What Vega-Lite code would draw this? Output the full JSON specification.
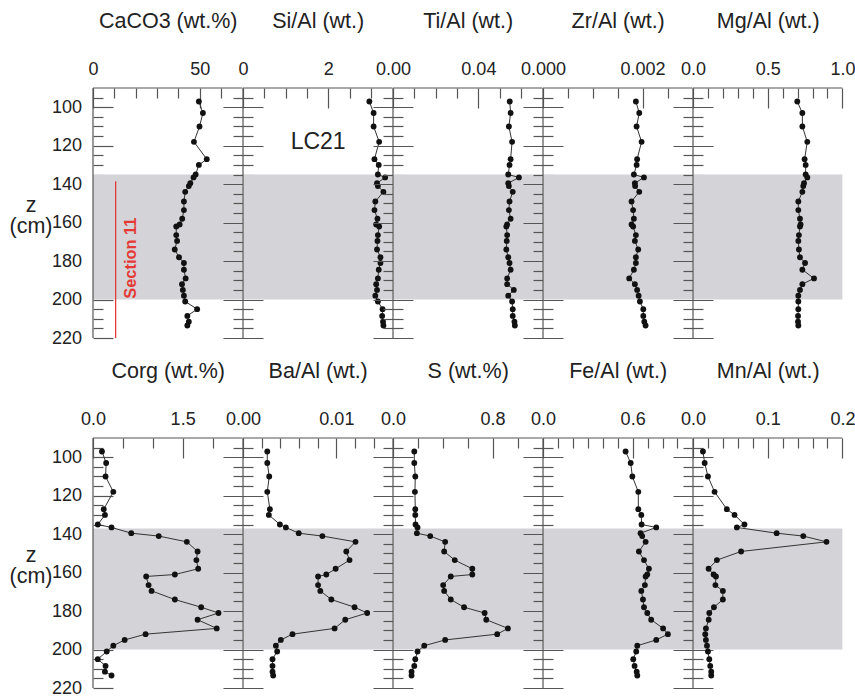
{
"$schema":"https://vega.github.io/schema/vega-lite/v6.json",
"padding":{"left":9,"top":10,"right":5,"bottom":5},
"datasets":{"core":[
{"depth":97,"CaCO3":49.6,"Si_Al":2.96,"Ti_Al":0.0547,"Zr_Al":0.001865,"Mg_Al":0.698,"Corg":0.15,"Ba_Al":0.0026,"S":0.171,"Fe_Al":0.553,"Mn_Al":0.0133},
{"depth":103,"CaCO3":51.5,"Si_Al":3.06,"Ti_Al":0.0551,"Zr_Al":0.001933,"Mg_Al":0.732,"Corg":0.22,"Ba_Al":0.0026,"S":0.171,"Fe_Al":0.587,"Mn_Al":0.0156},
{"depth":110,"CaCO3":49.9,"Si_Al":3.06,"Ti_Al":0.0543,"Zr_Al":0.001879,"Mg_Al":0.732,"Corg":0.21,"Ba_Al":0.00281,"S":0.179,"Fe_Al":0.598,"Mn_Al":0.02},
{"depth":118,"CaCO3":47.3,"Si_Al":3.19,"Ti_Al":0.0558,"Zr_Al":0.00198,"Mg_Al":0.765,"Corg":0.34,"Ba_Al":0.0026,"S":0.176,"Fe_Al":0.638,"Mn_Al":0.0289},
{"depth":127,"CaCO3":53.3,"Si_Al":3.08,"Ti_Al":0.0551,"Zr_Al":0.00189,"Mg_Al":0.747,"Corg":0.18,"Ba_Al":0.00288,"S":0.179,"Fe_Al":0.638,"Mn_Al":0.0453},
{"depth":130,"CaCO3":49.6,"Si_Al":3.18,"Ti_Al":0.0546,"Zr_Al":0.00188,"Mg_Al":0.754,"Corg":0.2,"Ba_Al":0.00277,"S":0.179,"Fe_Al":0.658,"Mn_Al":0.0556},
{"depth":135,"CaCO3":48.1,"Si_Al":3.16,"Ti_Al":0.054,"Zr_Al":0.001825,"Mg_Al":0.754,"Corg":0.08,"Ba_Al":0.00395,"S":0.181,"Fe_Al":0.66,"Mn_Al":0.0689},
{"depth":136.5,"CaCO3":47.1,"Si_Al":3.33,"Ti_Al":0.059,"Zr_Al":0.002027,"Mg_Al":0.765,"Corg":0.31,"Ba_Al":0.00459,"S":0.197,"Fe_Al":0.758,"Mn_Al":0.0587},
{"depth":139.5,"CaCO3":45.6,"Si_Al":3.14,"Ti_Al":0.054,"Zr_Al":0.001845,"Mg_Al":0.743,"Corg":0.64,"Ba_Al":0.00597,"S":0.192,"Fe_Al":0.653,"Mn_Al":0.112},
{"depth":141,"CaCO3":44.9,"Si_Al":3.16,"Ti_Al":0.0543,"Zr_Al":0.00185,"Mg_Al":0.738,"Corg":1.1,"Ba_Al":0.0085,"S":0.299,"Fe_Al":0.664,"Mn_Al":0.1476},
{"depth":144,"CaCO3":43.2,"Si_Al":3.29,"Ti_Al":0.0561,"Zr_Al":0.001933,"Mg_Al":0.732,"Corg":1.57,"Ba_Al":0.01205,"S":0.419,"Fe_Al":0.687,"Mn_Al":0.1787},
{"depth":149,"CaCO3":42.6,"Si_Al":3.1,"Ti_Al":0.0546,"Zr_Al":0.001778,"Mg_Al":0.705,"Corg":1.75,"Ba_Al":0.01106,"S":0.411,"Fe_Al":0.642,"Mn_Al":0.0644},
{"depth":153.5,"CaCO3":42.6,"Si_Al":3.08,"Ti_Al":0.0543,"Zr_Al":0.00181,"Mg_Al":0.705,"Corg":1.73,"Ba_Al":0.01141,"S":0.496,"Fe_Al":0.676,"Mn_Al":0.032},
{"depth":158,"CaCO3":41.8,"Si_Al":3.15,"Ti_Al":0.0551,"Zr_Al":0.001825,"Mg_Al":0.716,"Corg":1.76,"Ba_Al":0.00992,"S":0.637,"Fe_Al":0.709,"Mn_Al":0.0209},
{"depth":161,"CaCO3":40.6,"Si_Al":3.12,"Ti_Al":0.0535,"Zr_Al":0.001778,"Mg_Al":0.72,"Corg":1.37,"Ba_Al":0.00892,"S":0.637,"Fe_Al":0.698,"Mn_Al":0.0276},
{"depth":162,"CaCO3":39.0,"Si_Al":3.19,"Ti_Al":0.0531,"Zr_Al":0.00181,"Mg_Al":0.716,"Corg":0.89,"Ba_Al":0.00804,"S":0.464,"Fe_Al":0.687,"Mn_Al":0.0307},
{"depth":166.5,"CaCO3":39.0,"Si_Al":3.16,"Ti_Al":0.0535,"Zr_Al":0.001865,"Mg_Al":0.709,"Corg":0.93,"Ba_Al":0.00804,"S":0.403,"Fe_Al":0.682,"Mn_Al":0.03},
{"depth":169.5,"CaCO3":39.4,"Si_Al":3.15,"Ti_Al":0.0533,"Zr_Al":0.001845,"Mg_Al":0.705,"Corg":0.98,"Ba_Al":0.00828,"S":0.411,"Fe_Al":0.658,"Mn_Al":0.04},
{"depth":174,"CaCO3":38.3,"Si_Al":3.14,"Ti_Al":0.0531,"Zr_Al":0.001912,"Mg_Al":0.709,"Corg":1.37,"Ba_Al":0.00946,"S":0.464,"Fe_Al":0.669,"Mn_Al":0.04},
{"depth":178,"CaCO3":40.3,"Si_Al":3.22,"Ti_Al":0.054,"Zr_Al":0.001865,"Mg_Al":0.716,"Corg":1.81,"Ba_Al":0.01195,"S":0.571,"Fe_Al":0.676,"Mn_Al":0.028},
{"depth":181,"CaCO3":42.6,"Si_Al":3.22,"Ti_Al":0.0546,"Zr_Al":0.001865,"Mg_Al":0.75,"Corg":2.1,"Ba_Al":0.0133,"S":0.736,"Fe_Al":0.698,"Mn_Al":0.0218},
{"depth":184.5,"CaCO3":42.6,"Si_Al":3.18,"Ti_Al":0.0551,"Zr_Al":0.001825,"Mg_Al":0.732,"Corg":1.75,"Ba_Al":0.01095,"S":0.749,"Fe_Al":0.724,"Mn_Al":0.021},
{"depth":189,"CaCO3":43.4,"Si_Al":3.16,"Ti_Al":0.0535,"Zr_Al":0.001731,"Mg_Al":0.81,"Corg":2.07,"Ba_Al":0.00981,"S":0.923,"Fe_Al":0.804,"Mn_Al":0.0173},
{"depth":192,"CaCO3":41.7,"Si_Al":3.12,"Ti_Al":0.0535,"Zr_Al":0.001845,"Mg_Al":0.732,"Corg":0.88,"Ba_Al":0.0053,"S":0.837,"Fe_Al":0.836,"Mn_Al":0.0164},
{"depth":195,"CaCO3":42.1,"Si_Al":3.14,"Ti_Al":0.0566,"Zr_Al":0.00189,"Mg_Al":0.716,"Corg":0.53,"Ba_Al":0.00405,"S":0.419,"Fe_Al":0.758,"Mn_Al":0.0173},
{"depth":198,"CaCO3":42.6,"Si_Al":3.1,"Ti_Al":0.054,"Zr_Al":0.00192,"Mg_Al":0.705,"Corg":0.34,"Ba_Al":0.00352,"S":0.251,"Fe_Al":0.631,"Mn_Al":0.0187},
{"depth":201,"CaCO3":43.2,"Si_Al":3.16,"Ti_Al":0.0558,"Zr_Al":0.001946,"Mg_Al":0.705,"Corg":0.23,"Ba_Al":0.00366,"S":0.197,"Fe_Al":0.624,"Mn_Al":0.02},
{"depth":205,"CaCO3":48.8,"Si_Al":3.27,"Ti_Al":0.0561,"Zr_Al":0.002014,"Mg_Al":0.705,"Corg":0.08,"Ba_Al":0.00316,"S":0.179,"Fe_Al":0.604,"Mn_Al":0.0218},
{"depth":208.5,"CaCO3":44.2,"Si_Al":3.26,"Ti_Al":0.0561,"Zr_Al":0.002014,"Mg_Al":0.703,"Corg":0.21,"Ba_Al":0.00316,"S":0.171,"Fe_Al":0.613,"Mn_Al":0.0231},
{"depth":211.5,"CaCO3":44.9,"Si_Al":3.28,"Ti_Al":0.0569,"Zr_Al":0.002034,"Mg_Al":0.703,"Corg":0.2,"Ba_Al":0.00316,"S":0.149,"Fe_Al":0.627,"Mn_Al":0.0244},
{"depth":213.5,"CaCO3":44.2,"Si_Al":3.29,"Ti_Al":0.0571,"Zr_Al":0.00206,"Mg_Al":0.705,"Corg":0.31,"Ba_Al":0.00323,"S":0.149,"Fe_Al":0.631,"Mn_Al":0.0244}
]},
"data":{"name":"core"},
"bounds":"flush",
"columns":5,
"spacing":{"row":100,"column":0},
"concat":[
{"width":149.4,"height":250,"resolve":{"axis":{"x":"independent","y":"independent"}},"layer":[
{"data":{"values":[{}]},"mark":{"type":"rect","color":"#d4d4d8"},"encoding":{"x":{"datum":0,"type":"quantitative","scale":{"domain":[0,70],"nice":false,"zero":false},"axis":null},"x2":{"datum":70},"y":{"datum":135,"type":"quantitative","scale":{"domain":[90,220],"reverse":true,"nice":false,"zero":false},"axis":null},"y2":{"datum":200}}},
{"mark":{"type":"line","color":"#333","strokeWidth":1,"point":{"filled":true,"color":"#111","size":34,"opacity":1}},"encoding":{"x":{"field":"CaCO3","type":"quantitative","scale":{"domain":[0,70],"nice":false,"zero":false},"axis":{"orient":"top","offset":-20,"tickSize":20,"values":[0,50],"format":"d","domain":false,"labelPadding":9.5,"title":"CaCO3 (wt.%)","titleBaseline":"alphabetic","titleY":-80.5}},"y":{"field":"depth","type":"quantitative","scale":{"domain":[90,220],"reverse":true,"nice":false,"zero":false},"axis":{"orient":"left","offset":-20,"tickSize":20,"values":[100,120,140,160,180,200,220],"domain":false,"labelPadding":11.5,"title":["z","(cm)"],"titleAngle":0,"titleAlign":"center","titleBaseline":"alphabetic","titleX":-82.5,"titleY":123,"titleLineHeight":21}},"order":{"field":"depth","type":"quantitative"}}},
{"data":{"values":[{}]},"mark":{"type":"rule","color":"#555","strokeWidth":1.2},"encoding":{"x":{"datum":0,"type":"quantitative","scale":{"domain":[0,70],"nice":false,"zero":false},"axis":{"orient":"top","offset":-10,"tickSize":10,"values":[10,20,30,40,60],"labels":false,"domain":false,"title":null}}}},
{"data":{"values":[{}]},"mark":{"type":"rule","color":"#555","strokeWidth":1.2},"encoding":{"y":{"datum":90,"type":"quantitative","scale":{"domain":[90,220],"reverse":true,"nice":false,"zero":false},"axis":{"orient":"left","offset":-10,"tickSize":10,"values":[95,105,110,115,125,130,135,145,150,155,165,170,175,185,190,195,205,210,215],"labels":false,"domain":false,"title":null}}}},
{"data":{"values":[{}]},"mark":{"type":"rule","color":"#e53935","strokeWidth":1.3},"encoding":{"x":{"datum":10.6,"type":"quantitative","scale":{"domain":[0,70],"nice":false,"zero":false},"axis":null},"y":{"datum":138.5,"type":"quantitative","scale":{"domain":[90,220],"reverse":true,"nice":false,"zero":false},"axis":null},"y2":{"datum":220}}},
{"data":{"values":[{}]},"mark":{"type":"text","text":"Section 11","angle":270,"color":"#e53935","fontWeight":"bold","fontSize":16.4,"font":"Liberation Sans","align":"center","baseline":"middle"},"encoding":{"x":{"datum":17.7,"type":"quantitative","scale":{"domain":[0,70],"nice":false,"zero":false},"axis":null},"y":{"datum":178.5,"type":"quantitative","scale":{"domain":[90,220],"reverse":true,"nice":false,"zero":false},"axis":null}}}
]},
{"width":149.4,"height":250,"resolve":{"axis":{"x":"independent","y":"independent"}},"layer":[
{"data":{"values":[{}]},"mark":{"type":"rect","color":"#d4d4d8"},"encoding":{"x":{"datum":0,"type":"quantitative","scale":{"domain":[0,3.5],"nice":false,"zero":false},"axis":null},"x2":{"datum":3.5},"y":{"datum":135,"type":"quantitative","scale":{"domain":[90,220],"reverse":true,"nice":false,"zero":false},"axis":null},"y2":{"datum":200}}},
{"mark":{"type":"line","color":"#333","strokeWidth":1,"point":{"filled":true,"color":"#111","size":34,"opacity":1}},"encoding":{"x":{"field":"Si_Al","type":"quantitative","scale":{"domain":[0,3.5],"nice":false,"zero":false},"axis":{"orient":"top","offset":-20,"tickSize":20,"values":[0,2],"format":"d","domain":false,"labelPadding":9.5,"title":"Si/Al (wt.)","titleBaseline":"alphabetic","titleY":-80.5}},"y":{"field":"depth","type":"quantitative","scale":{"domain":[90,220],"reverse":true,"nice":false,"zero":false},"axis":{"orient":"left","offset":-20,"tickSize":40,"values":[100,120,140,160,180,200,220],"labels":false,"domain":false,"title":null}},"order":{"field":"depth","type":"quantitative"}}},
{"data":{"values":[{}]},"mark":{"type":"rule","color":"#555","strokeWidth":1.2},"encoding":{"x":{"datum":0,"type":"quantitative","scale":{"domain":[0,3.5],"nice":false,"zero":false},"axis":{"orient":"top","offset":-10,"tickSize":10,"values":[0.5,1,1.5,2.5,3],"labels":false,"domain":false,"title":null}}}},
{"data":{"values":[{}]},"mark":{"type":"rule","color":"#555","strokeWidth":1.2},"encoding":{"y":{"datum":90,"type":"quantitative","scale":{"domain":[90,220],"reverse":true,"nice":false,"zero":false},"axis":{"orient":"left","offset":-10,"tickSize":20,"values":[95,105,110,115,125,130,135,145,150,155,165,170,175,185,190,195,205,210,215],"labels":false,"domain":false,"title":null}}}},
{"data":{"values":[{}]},"mark":{"type":"text","text":"LC21","fontSize":23,"color":"#222","font":"Liberation Sans","align":"center","baseline":"middle"},"encoding":{"x":{"datum":1.76,"type":"quantitative","scale":{"domain":[0,3.5],"nice":false,"zero":false},"axis":null},"y":{"datum":118,"type":"quantitative","scale":{"domain":[90,220],"reverse":true,"nice":false,"zero":false},"axis":null}}}
]},
{"width":149.4,"height":250,"resolve":{"axis":{"x":"independent","y":"independent"}},"layer":[
{"data":{"values":[{}]},"mark":{"type":"rect","color":"#d4d4d8"},"encoding":{"x":{"datum":0,"type":"quantitative","scale":{"domain":[0,0.07],"nice":false,"zero":false},"axis":null},"x2":{"datum":0.07},"y":{"datum":135,"type":"quantitative","scale":{"domain":[90,220],"reverse":true,"nice":false,"zero":false},"axis":null},"y2":{"datum":200}}},
{"mark":{"type":"line","color":"#333","strokeWidth":1,"point":{"filled":true,"color":"#111","size":34,"opacity":1}},"encoding":{"x":{"field":"Ti_Al","type":"quantitative","scale":{"domain":[0,0.07],"nice":false,"zero":false},"axis":{"orient":"top","offset":-20,"tickSize":20,"values":[0,0.04],"format":".2f","domain":false,"labelPadding":9.5,"title":"Ti/Al (wt.)","titleBaseline":"alphabetic","titleY":-80.5}},"y":{"field":"depth","type":"quantitative","scale":{"domain":[90,220],"reverse":true,"nice":false,"zero":false},"axis":{"orient":"left","offset":-20,"tickSize":40,"values":[100,120,140,160,180,200,220],"labels":false,"domain":false,"title":null}},"order":{"field":"depth","type":"quantitative"}}},
{"data":{"values":[{}]},"mark":{"type":"rule","color":"#555","strokeWidth":1.2},"encoding":{"x":{"datum":0,"type":"quantitative","scale":{"domain":[0,0.07],"nice":false,"zero":false},"axis":{"orient":"top","offset":-10,"tickSize":10,"values":[0.01,0.02,0.03,0.05,0.06],"labels":false,"domain":false,"title":null}}}},
{"data":{"values":[{}]},"mark":{"type":"rule","color":"#555","strokeWidth":1.2},"encoding":{"y":{"datum":90,"type":"quantitative","scale":{"domain":[90,220],"reverse":true,"nice":false,"zero":false},"axis":{"orient":"left","offset":-10,"tickSize":20,"values":[95,105,110,115,125,130,135,145,150,155,165,170,175,185,190,195,205,210,215],"labels":false,"domain":false,"title":null}}}}
]},
{"width":149.4,"height":250,"resolve":{"axis":{"x":"independent","y":"independent"}},"layer":[
{"data":{"values":[{}]},"mark":{"type":"rect","color":"#d4d4d8"},"encoding":{"x":{"datum":0,"type":"quantitative","scale":{"domain":[0,0.003],"nice":false,"zero":false},"axis":null},"x2":{"datum":0.003},"y":{"datum":135,"type":"quantitative","scale":{"domain":[90,220],"reverse":true,"nice":false,"zero":false},"axis":null},"y2":{"datum":200}}},
{"mark":{"type":"line","color":"#333","strokeWidth":1,"point":{"filled":true,"color":"#111","size":34,"opacity":1}},"encoding":{"x":{"field":"Zr_Al","type":"quantitative","scale":{"domain":[0,0.003],"nice":false,"zero":false},"axis":{"orient":"top","offset":-20,"tickSize":20,"values":[0,0.002],"format":".3f","domain":false,"labelPadding":9.5,"title":"Zr/Al (wt.)","titleBaseline":"alphabetic","titleY":-80.5}},"y":{"field":"depth","type":"quantitative","scale":{"domain":[90,220],"reverse":true,"nice":false,"zero":false},"axis":{"orient":"left","offset":-20,"tickSize":40,"values":[100,120,140,160,180,200,220],"labels":false,"domain":false,"title":null}},"order":{"field":"depth","type":"quantitative"}}},
{"data":{"values":[{}]},"mark":{"type":"rule","color":"#555","strokeWidth":1.2},"encoding":{"x":{"datum":0,"type":"quantitative","scale":{"domain":[0,0.003],"nice":false,"zero":false},"axis":{"orient":"top","offset":-10,"tickSize":10,"values":[0.0005,0.001,0.0015,0.0025],"labels":false,"domain":false,"title":null}}}},
{"data":{"values":[{}]},"mark":{"type":"rule","color":"#555","strokeWidth":1.2},"encoding":{"y":{"datum":90,"type":"quantitative","scale":{"domain":[90,220],"reverse":true,"nice":false,"zero":false},"axis":{"orient":"left","offset":-10,"tickSize":20,"values":[95,105,110,115,125,130,135,145,150,155,165,170,175,185,190,195,205,210,215],"labels":false,"domain":false,"title":null}}}}
]},
{"width":149.4,"height":250,"resolve":{"axis":{"x":"independent","y":"independent"}},"layer":[
{"data":{"values":[{}]},"mark":{"type":"rect","color":"#d4d4d8"},"encoding":{"x":{"datum":0,"type":"quantitative","scale":{"domain":[0,1],"nice":false,"zero":false},"axis":null},"x2":{"datum":1},"y":{"datum":135,"type":"quantitative","scale":{"domain":[90,220],"reverse":true,"nice":false,"zero":false},"axis":null},"y2":{"datum":200}}},
{"mark":{"type":"line","color":"#333","strokeWidth":1,"point":{"filled":true,"color":"#111","size":34,"opacity":1}},"encoding":{"x":{"field":"Mg_Al","type":"quantitative","scale":{"domain":[0,1],"nice":false,"zero":false},"axis":{"orient":"top","offset":-20,"tickSize":20,"values":[0,0.5,1],"format":".1f","domain":false,"labelPadding":9.5,"title":"Mg/Al (wt.)","titleBaseline":"alphabetic","titleY":-80.5}},"y":{"field":"depth","type":"quantitative","scale":{"domain":[90,220],"reverse":true,"nice":false,"zero":false},"axis":{"orient":"left","offset":-20,"tickSize":40,"values":[100,120,140,160,180,200,220],"labels":false,"domain":false,"title":null}},"order":{"field":"depth","type":"quantitative"}}},
{"data":{"values":[{}]},"mark":{"type":"rule","color":"#555","strokeWidth":1.2},"encoding":{"x":{"datum":0,"type":"quantitative","scale":{"domain":[0,1],"nice":false,"zero":false},"axis":{"orient":"top","offset":-10,"tickSize":10,"values":[0.1,0.2,0.3,0.4,0.6,0.7,0.8,0.9],"labels":false,"domain":false,"title":null}}}},
{"data":{"values":[{}]},"mark":{"type":"rule","color":"#555","strokeWidth":1.2},"encoding":{"y":{"datum":90,"type":"quantitative","scale":{"domain":[90,220],"reverse":true,"nice":false,"zero":false},"axis":{"orient":"left","offset":-10,"tickSize":20,"values":[95,105,110,115,125,130,135,145,150,155,165,170,175,185,190,195,205,210,215],"labels":false,"domain":false,"title":null}}}}
]},
{"width":149.4,"height":250,"resolve":{"axis":{"x":"independent","y":"independent"}},"layer":[
{"data":{"values":[{}]},"mark":{"type":"rect","color":"#d4d4d8"},"encoding":{"x":{"datum":0,"type":"quantitative","scale":{"domain":[0,2.5],"nice":false,"zero":false},"axis":null},"x2":{"datum":2.5},"y":{"datum":137,"type":"quantitative","scale":{"domain":[90,220],"reverse":true,"nice":false,"zero":false},"axis":null},"y2":{"datum":200}}},
{"mark":{"type":"line","color":"#333","strokeWidth":1,"point":{"filled":true,"color":"#111","size":34,"opacity":1}},"encoding":{"x":{"field":"Corg","type":"quantitative","scale":{"domain":[0,2.5],"nice":false,"zero":false},"axis":{"orient":"top","offset":-20,"tickSize":20,"values":[0,1.5],"format":".1f","domain":false,"labelPadding":9.5,"title":"Corg (wt.%)","titleBaseline":"alphabetic","titleY":-80.5}},"y":{"field":"depth","type":"quantitative","scale":{"domain":[90,220],"reverse":true,"nice":false,"zero":false},"axis":{"orient":"left","offset":-20,"tickSize":20,"values":[100,120,140,160,180,200,220],"domain":false,"labelPadding":11.5,"title":["z","(cm)"],"titleAngle":0,"titleAlign":"center","titleBaseline":"alphabetic","titleX":-82.5,"titleY":123,"titleLineHeight":21}},"order":{"field":"depth","type":"quantitative"}}},
{"data":{"values":[{}]},"mark":{"type":"rule","color":"#555","strokeWidth":1.2},"encoding":{"x":{"datum":0,"type":"quantitative","scale":{"domain":[0,2.5],"nice":false,"zero":false},"axis":{"orient":"top","offset":-10,"tickSize":10,"values":[0.5,1,2],"labels":false,"domain":false,"title":null}}}},
{"data":{"values":[{}]},"mark":{"type":"rule","color":"#555","strokeWidth":1.2},"encoding":{"y":{"datum":90,"type":"quantitative","scale":{"domain":[90,220],"reverse":true,"nice":false,"zero":false},"axis":{"orient":"left","offset":-10,"tickSize":10,"values":[95,105,110,115,125,130,135,145,150,155,165,170,175,185,190,195,205,210,215],"labels":false,"domain":false,"title":null}}}}
]},
{"width":149.4,"height":250,"resolve":{"axis":{"x":"independent","y":"independent"}},"layer":[
{"data":{"values":[{}]},"mark":{"type":"rect","color":"#d4d4d8"},"encoding":{"x":{"datum":0,"type":"quantitative","scale":{"domain":[0,0.016],"nice":false,"zero":false},"axis":null},"x2":{"datum":0.016},"y":{"datum":137,"type":"quantitative","scale":{"domain":[90,220],"reverse":true,"nice":false,"zero":false},"axis":null},"y2":{"datum":200}}},
{"mark":{"type":"line","color":"#333","strokeWidth":1,"point":{"filled":true,"color":"#111","size":34,"opacity":1}},"encoding":{"x":{"field":"Ba_Al","type":"quantitative","scale":{"domain":[0,0.016],"nice":false,"zero":false},"axis":{"orient":"top","offset":-20,"tickSize":20,"values":[0,0.01],"format":".2f","domain":false,"labelPadding":9.5,"title":"Ba/Al (wt.)","titleBaseline":"alphabetic","titleY":-80.5}},"y":{"field":"depth","type":"quantitative","scale":{"domain":[90,220],"reverse":true,"nice":false,"zero":false},"axis":{"orient":"left","offset":-20,"tickSize":40,"values":[100,120,140,160,180,200,220],"labels":false,"domain":false,"title":null}},"order":{"field":"depth","type":"quantitative"}}},
{"data":{"values":[{}]},"mark":{"type":"rule","color":"#555","strokeWidth":1.2},"encoding":{"x":{"datum":0,"type":"quantitative","scale":{"domain":[0,0.016],"nice":false,"zero":false},"axis":{"orient":"top","offset":-10,"tickSize":10,"values":[0.002,0.004,0.006,0.008,0.012,0.014],"labels":false,"domain":false,"title":null}}}},
{"data":{"values":[{}]},"mark":{"type":"rule","color":"#555","strokeWidth":1.2},"encoding":{"y":{"datum":90,"type":"quantitative","scale":{"domain":[90,220],"reverse":true,"nice":false,"zero":false},"axis":{"orient":"left","offset":-10,"tickSize":20,"values":[95,105,110,115,125,130,135,145,150,155,165,170,175,185,190,195,205,210,215],"labels":false,"domain":false,"title":null}}}}
]},
{"width":149.4,"height":250,"resolve":{"axis":{"x":"independent","y":"independent"}},"layer":[
{"data":{"values":[{}]},"mark":{"type":"rect","color":"#d4d4d8"},"encoding":{"x":{"datum":0,"type":"quantitative","scale":{"domain":[0,1.2],"nice":false,"zero":false},"axis":null},"x2":{"datum":1.2},"y":{"datum":137,"type":"quantitative","scale":{"domain":[90,220],"reverse":true,"nice":false,"zero":false},"axis":null},"y2":{"datum":200}}},
{"mark":{"type":"line","color":"#333","strokeWidth":1,"point":{"filled":true,"color":"#111","size":34,"opacity":1}},"encoding":{"x":{"field":"S","type":"quantitative","scale":{"domain":[0,1.2],"nice":false,"zero":false},"axis":{"orient":"top","offset":-20,"tickSize":20,"values":[0,0.8],"format":".1f","domain":false,"labelPadding":9.5,"title":"S (wt.%)","titleBaseline":"alphabetic","titleY":-80.5}},"y":{"field":"depth","type":"quantitative","scale":{"domain":[90,220],"reverse":true,"nice":false,"zero":false},"axis":{"orient":"left","offset":-20,"tickSize":40,"values":[100,120,140,160,180,200,220],"labels":false,"domain":false,"title":null}},"order":{"field":"depth","type":"quantitative"}}},
{"data":{"values":[{}]},"mark":{"type":"rule","color":"#555","strokeWidth":1.2},"encoding":{"x":{"datum":0,"type":"quantitative","scale":{"domain":[0,1.2],"nice":false,"zero":false},"axis":{"orient":"top","offset":-10,"tickSize":10,"values":[0.2,0.4,0.6,1.0],"labels":false,"domain":false,"title":null}}}},
{"data":{"values":[{}]},"mark":{"type":"rule","color":"#555","strokeWidth":1.2},"encoding":{"y":{"datum":90,"type":"quantitative","scale":{"domain":[90,220],"reverse":true,"nice":false,"zero":false},"axis":{"orient":"left","offset":-10,"tickSize":20,"values":[95,105,110,115,125,130,135,145,150,155,165,170,175,185,190,195,205,210,215],"labels":false,"domain":false,"title":null}}}}
]},
{"width":149.4,"height":250,"resolve":{"axis":{"x":"independent","y":"independent"}},"layer":[
{"data":{"values":[{}]},"mark":{"type":"rect","color":"#d4d4d8"},"encoding":{"x":{"datum":0,"type":"quantitative","scale":{"domain":[0,1],"nice":false,"zero":false},"axis":null},"x2":{"datum":1},"y":{"datum":137,"type":"quantitative","scale":{"domain":[90,220],"reverse":true,"nice":false,"zero":false},"axis":null},"y2":{"datum":200}}},
{"mark":{"type":"line","color":"#333","strokeWidth":1,"point":{"filled":true,"color":"#111","size":34,"opacity":1}},"encoding":{"x":{"field":"Fe_Al","type":"quantitative","scale":{"domain":[0,1],"nice":false,"zero":false},"axis":{"orient":"top","offset":-20,"tickSize":20,"values":[0,0.6],"format":".1f","domain":false,"labelPadding":9.5,"title":"Fe/Al (wt.)","titleBaseline":"alphabetic","titleY":-80.5}},"y":{"field":"depth","type":"quantitative","scale":{"domain":[90,220],"reverse":true,"nice":false,"zero":false},"axis":{"orient":"left","offset":-20,"tickSize":40,"values":[100,120,140,160,180,200,220],"labels":false,"domain":false,"title":null}},"order":{"field":"depth","type":"quantitative"}}},
{"data":{"values":[{}]},"mark":{"type":"rule","color":"#555","strokeWidth":1.2},"encoding":{"x":{"datum":0,"type":"quantitative","scale":{"domain":[0,1],"nice":false,"zero":false},"axis":{"orient":"top","offset":-10,"tickSize":10,"values":[0.1,0.2,0.3,0.4,0.5,0.7,0.8,0.9],"labels":false,"domain":false,"title":null}}}},
{"data":{"values":[{}]},"mark":{"type":"rule","color":"#555","strokeWidth":1.2},"encoding":{"y":{"datum":90,"type":"quantitative","scale":{"domain":[90,220],"reverse":true,"nice":false,"zero":false},"axis":{"orient":"left","offset":-10,"tickSize":20,"values":[95,105,110,115,125,130,135,145,150,155,165,170,175,185,190,195,205,210,215],"labels":false,"domain":false,"title":null}}}}
]},
{"width":149.4,"height":250,"resolve":{"axis":{"x":"independent","y":"independent"}},"layer":[
{"data":{"values":[{}]},"mark":{"type":"rect","color":"#d4d4d8"},"encoding":{"x":{"datum":0,"type":"quantitative","scale":{"domain":[0,0.2],"nice":false,"zero":false},"axis":null},"x2":{"datum":0.2},"y":{"datum":137,"type":"quantitative","scale":{"domain":[90,220],"reverse":true,"nice":false,"zero":false},"axis":null},"y2":{"datum":200}}},
{"mark":{"type":"line","color":"#333","strokeWidth":1,"point":{"filled":true,"color":"#111","size":34,"opacity":1}},"encoding":{"x":{"field":"Mn_Al","type":"quantitative","scale":{"domain":[0,0.2],"nice":false,"zero":false},"axis":{"orient":"top","offset":-20,"tickSize":20,"values":[0,0.1,0.2],"format":".1f","domain":false,"labelPadding":9.5,"title":"Mn/Al (wt.)","titleBaseline":"alphabetic","titleY":-80.5}},"y":{"field":"depth","type":"quantitative","scale":{"domain":[90,220],"reverse":true,"nice":false,"zero":false},"axis":{"orient":"left","offset":-20,"tickSize":40,"values":[100,120,140,160,180,200,220],"labels":false,"domain":false,"title":null}},"order":{"field":"depth","type":"quantitative"}}},
{"data":{"values":[{}]},"mark":{"type":"rule","color":"#555","strokeWidth":1.2},"encoding":{"x":{"datum":0,"type":"quantitative","scale":{"domain":[0,0.2],"nice":false,"zero":false},"axis":{"orient":"top","offset":-10,"tickSize":10,"values":[0.02,0.04,0.06,0.08,0.12,0.14,0.16,0.18],"labels":false,"domain":false,"title":null}}}},
{"data":{"values":[{}]},"mark":{"type":"rule","color":"#555","strokeWidth":1.2},"encoding":{"y":{"datum":90,"type":"quantitative","scale":{"domain":[90,220],"reverse":true,"nice":false,"zero":false},"axis":{"orient":"left","offset":-10,"tickSize":20,"values":[95,105,110,115,125,130,135,145,150,155,165,170,175,185,190,195,205,210,215],"labels":false,"domain":false,"title":null}}}}
]}
],
"config":{
"view":{"stroke":null},
"font":"Liberation Sans",
"axis":{"labelFont":"Liberation Sans","titleFont":"Liberation Sans","labelFontSize":18,"titleFontSize":21.5,"titleFontWeight":"normal","labelColor":"#222","titleColor":"#222","tickColor":"#555","domainColor":"#555","tickWidth":1.2,"domainWidth":1.2,"grid":false,"labelFlush":false,"labelOverlap":false,"labelBound":false}
}
}
